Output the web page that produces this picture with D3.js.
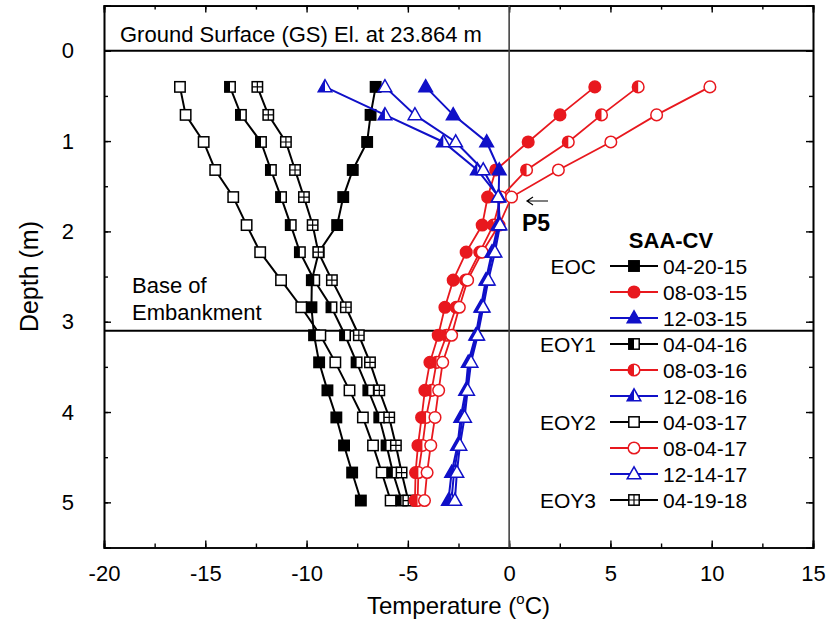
<!DOCTYPE html>
<html><head><meta charset="utf-8">
<script src="https://cdn.jsdelivr.net/npm/d3@7"></script>
<style>body{margin:0;background:#fff} svg{display:block} text{font-family:"Liberation Sans",Arial,sans-serif;fill:#000}</style>
</head><body><svg id="c" width="830" height="624"></svg>
<script>
// ---------------- DATA ----------------
const depths = [0.40, 0.71, 1.01, 1.32, 1.62, 1.93, 2.23, 2.54, 2.84, 3.15, 3.45, 3.76, 4.06, 4.37, 4.67, 4.98];
const seriesDates = ["04-20-15","08-03-15","12-03-15","04-04-16","08-03-16","12-08-16","04-03-17","08-04-17","12-14-17","04-19-18"];
const groupLabels = ["EOC","","","EOY1","","","EOY2","","","EOY3"];
const t_042015 = [-6.59,-6.84,-7.01,-7.72,-8.19,-8.49,-9.40,-9.74,-9.76,-9.63,-9.38,-8.97,-8.53,-8.15,-7.75,-7.32];
const t_080315 = [4.23,2.51,0.94,-0.66,-1.06,-1.33,-2.12,-2.76,-3.17,-3.50,-3.91,-4.16,-4.32,-4.50,-4.62,-4.65];
const t_120315 = [-4.12,-2.76,-1.11,-0.49,-0.52,-0.55,-0.85,-1.15,-1.40,-1.65,-2.02,-2.15,-2.39,-2.55,-2.84,-3.00];
const t_040416 = [-13.78,-13.24,-12.25,-11.76,-11.26,-10.78,-10.33,-9.62,-8.77,-8.10,-7.53,-6.95,-6.41,-6.05,-5.74,-5.31];
const t_080316 = [6.37,4.56,2.92,0.86,-0.40,-0.78,-1.45,-2.15,-2.62,-3.09,-3.58,-3.83,-4.10,-4.28,-4.48,-4.52];
const t_120816 = [-9.09,-6.13,-3.25,-1.57,-0.50,-0.50,-0.80,-1.10,-1.35,-1.60,-1.95,-2.10,-2.30,-2.50,-2.72,-2.85];
const t_040317 = [-16.25,-15.97,-15.08,-14.51,-13.62,-12.96,-12.29,-11.26,-10.26,-9.32,-8.58,-7.88,-7.22,-6.72,-6.29,-5.85];
const t_080417 = [9.91,7.28,5.02,2.43,0.12,-0.50,-1.33,-2.05,-2.46,-2.84,-3.28,-3.48,-3.66,-3.87,-4.05,-4.18];
const t_121417 = [-6.13,-4.65,-2.64,-1.28,-0.54,-0.45,-0.70,-1.03,-1.28,-1.55,-1.88,-2.05,-2.20,-2.43,-2.58,-2.68];
const t_041918 = [-12.43,-11.89,-11.02,-10.57,-10.13,-9.70,-9.42,-8.75,-8.06,-7.42,-6.87,-6.41,-5.92,-5.59,-5.31,-4.98];
const xTicks = [-20,-15,-10,-5,0,5,10,15];
const yTicks = [0,1,2,3,4,5];
const gsDepth = 0;
const baseDepth = 3.1;
const gsLabel = "Ground Surface (GS) El. at 23.864 m";

// ---------------- STYLE ----------------
const RED = "#e8181e", BLUE = "#1010c8", BLACK = "#000";
const seriesTemps = [t_042015,t_080315,t_120315,t_040416,t_080316,t_120816,t_040317,t_080417,t_121417,t_041918];
const colors = [BLACK,RED,BLUE,BLACK,RED,BLUE,BLACK,RED,BLUE,BLACK];
const shapes = ["sq","circ","tri","sq","circ","tri","sq","circ","tri","sq"];
const fills  = ["full","full","full","half","half","half","open","open","open","cross"];
const series = seriesDates.map((d,i)=>({date:d, group:groupLabels[i], color:colors[i], shape:shapes[i], fill:fills[i],
  pts: depths.map((z,k)=>({z, t:seriesTemps[i][k]}))}));
const drawOrder = [0,3,6,9,1,4,7,2,5,8];

const svg = d3.select("#c");
const L=104, R=813, T=5.6, B=547.5;
const x = d3.scaleLinear().domain([-20,15]).range([L,R]);
const y = d3.scaleLinear().domain([-0.5,5.5]).range([T,B]);

// ---------------- AXES ----------------
const minorX = d3.range(-20,15.01,2.5), minorY = d3.range(-0.5,5.51,0.5);
function styleAxis(g){ g.selectAll("path.domain").attr("stroke","#000").attr("stroke-width",1.6);
  g.selectAll(".tick line").attr("stroke","#000").attr("stroke-width",1.4);
  g.selectAll("text").attr("font-size",22).attr("font-family",'"Liberation Sans",Arial,sans-serif'); }
svg.append("g").attr("transform",`translate(0,${B})`).call(d3.axisBottom(x).tickValues(minorX).tickSize(-4).tickFormat("")).call(styleAxis);
svg.append("g").attr("transform",`translate(0,${B})`).call(d3.axisBottom(x).tickValues(xTicks).tickSize(-7).tickPadding(18).tickFormat(d=>d)).call(styleAxis);
svg.append("g").attr("transform",`translate(0,${T})`).call(d3.axisTop(x).tickValues(minorX).tickSize(-4).tickFormat("")).call(styleAxis);
svg.append("g").attr("transform",`translate(0,${T})`).call(d3.axisTop(x).tickValues(xTicks).tickSize(-7).tickFormat("")).call(styleAxis);
svg.append("g").attr("transform",`translate(${L},0)`).call(d3.axisLeft(y).tickValues(minorY).tickSize(-4).tickFormat("")).call(styleAxis);
svg.append("g").attr("transform",`translate(${L},0)`).call(d3.axisLeft(y).tickValues(yTicks).tickSize(-7).tickPadding(30).tickFormat(d=>d)).call(styleAxis);
svg.append("g").attr("transform",`translate(${R},0)`).call(d3.axisRight(y).tickValues(minorY).tickSize(-4).tickFormat("")).call(styleAxis);
svg.append("g").attr("transform",`translate(${R},0)`).call(d3.axisRight(y).tickValues(yTicks).tickSize(-7).tickFormat("")).call(styleAxis);

// reference lines
svg.append("line").attr("x1",L).attr("x2",R).attr("y1",y(gsDepth)).attr("y2",y(gsDepth)).attr("stroke","#000").attr("stroke-width",2);
svg.append("line").attr("x1",L).attr("x2",R).attr("y1",y(baseDepth)).attr("y2",y(baseDepth)).attr("stroke","#000").attr("stroke-width",2);
svg.append("line").attr("x1",x(0)).attr("x2",x(0)).attr("y1",T).attr("y2",B).attr("stroke","#444").attr("stroke-width",1.6);

// titles
svg.append("text").attr("x",(L+R)/2).attr("y",614).attr("text-anchor","middle").attr("font-size",24)
  .call(t=>{t.append("tspan").text("Temperature (");t.append("tspan").attr("font-size",15).attr("dy",-10).text("o");t.append("tspan").attr("dy",10).text("C)");});
svg.append("text").attr("transform",`translate(38,${(T+B)/2}) rotate(-90)`).attr("text-anchor","middle").attr("font-size",25).text("Depth (m)");
svg.append("text").attr("x",120).attr("y",42).attr("font-size",22).text(gsLabel);
svg.append("text").attr("x",132).attr("y",293).attr("font-size",22).text("Base of");
svg.append("text").attr("x",132).attr("y",320).attr("font-size",22).text("Embankment");

// ---------------- MARKERS ----------------
function drawMarker(g, shape, fill, cx, cy, color){
  const sw = 1.5;
  const white = "#fff";
  if(shape==="sq"){
    const s=5.2;
    g.append("rect").attr("x",cx-s).attr("y",cy-s).attr("width",2*s).attr("height",2*s)
      .attr("fill", fill==="full"?color:white).attr("stroke",color).attr("stroke-width",sw);
    if(fill==="half") g.append("rect").attr("x",cx-s).attr("y",cy-s).attr("width",s).attr("height",2*s).attr("fill",color);
    if(fill==="cross") g.append("path").attr("d",`M${cx-s},${cy}H${cx+s}M${cx},${cy-s}V${cy+s}`).attr("stroke",color).attr("stroke-width",1.2);
  } else if(shape==="circ"){
    const r=5.8;
    g.append("circle").attr("cx",cx).attr("cy",cy).attr("r",r).attr("fill",fill==="full"?color:white).attr("stroke",color).attr("stroke-width",sw);
    if(fill==="half") g.append("path").attr("d",`M${cx},${cy-r}A${r},${r} 0 0 0 ${cx},${cy+r}Z`).attr("fill",color);
  } else {
    const w=6.8, up=7.2, dn=4.8;
    g.append("path").attr("d",`M${cx},${cy-up}L${cx-w},${cy+dn}L${cx+w},${cy+dn}Z`)
      .attr("fill",fill==="full"?color:white).attr("stroke",color).attr("stroke-width",sw).attr("stroke-linejoin","miter");
    if(fill==="half") g.append("path").attr("d",`M${cx},${cy-up}L${cx-w},${cy+dn}L${cx},${cy+dn}Z`).attr("fill",color);
  }
}

const line = d3.line().x(d=>x(d.t)).y(d=>y(d.z));
const plot = svg.append("g");
drawOrder.forEach(i=>{
  const s = series[i];
  const g = plot.append("g");
  g.append("path").attr("d",line(s.pts)).attr("fill","none").attr("stroke",s.color).attr("stroke-width",s.color===RED?1.8:2);
  s.pts.forEach(p=>drawMarker(g, s.shape, s.fill, x(p.t), y(p.z), s.color));
});

// annotation P5
svg.append("path").attr("d","M548,201H527M533,197L527,201L533,205").attr("fill","none").attr("stroke","#000").attr("stroke-width",1.2);
svg.append("text").attr("x",522).attr("y",231).attr("font-size",23).attr("font-weight","bold").text("P5");

// ---------------- LEGEND ----------------
const lg = svg.append("g");
lg.append("text").attr("x",671).attr("y",248).attr("text-anchor","middle").attr("font-size",22).attr("font-weight","bold").text("SAA-CV");
series.forEach((s,i)=>{
  const ry = 266 + 26*i;
  if(s.group) lg.append("text").attr("x",596).attr("y",ry+7.5).attr("text-anchor","end").attr("font-size",21).text(s.group);
  lg.append("line").attr("x1",610).attr("x2",658).attr("y1",ry).attr("y2",ry).attr("stroke",s.color).attr("stroke-width",2);
  drawMarker(lg, s.shape, s.fill, 634, ry, s.color);
  lg.append("text").attr("x",663).attr("y",ry+7.5).attr("font-size",21).text(s.date);
});
</script></body></html>
